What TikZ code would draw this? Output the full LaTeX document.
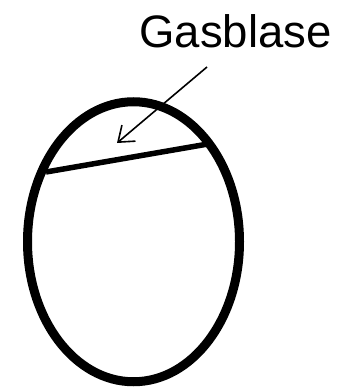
\documentclass[tikz,border=0pt]{standalone}
\usepackage{fontspec}
\setmainfont{Liberation Sans}
\usepackage{tikz}
\usetikzlibrary{arrows.meta}
\tikzset{
    wand/.style={draw=black, line width=9pt},
    spiegel/.style={draw=black, line width=5.5pt},
    pfeil/.style={draw=black, line width=1.6pt, -{Straight Barb[length=14pt, width=21pt]}},
    beschriftung/.style={font=\fontsize{45.5}{54}\selectfont, anchor=base, inner sep=0pt}
}

\begin{document}
\begin{tikzpicture}[x=1pt, y=-1pt]
    \useasboundingbox (0,0) rectangle (349,388);
    \coordinate (mitte) at (133.5,241.75);
    \draw[wand] (mitte) ellipse [x radius=106, y radius=140];
    \coordinate (links) at (46,172);
    \coordinate (rechts) at (208,144);
    \draw[spiegel] (links) -- (rechts);
    \node[beschriftung] (gasblase) at (235.5,47) {Gasblase};
    \coordinate (start) at (207,67);
    \coordinate (blase) at (117,143);
    \draw[pfeil] (start) -- (blase);
\end{tikzpicture}
\end{document}
